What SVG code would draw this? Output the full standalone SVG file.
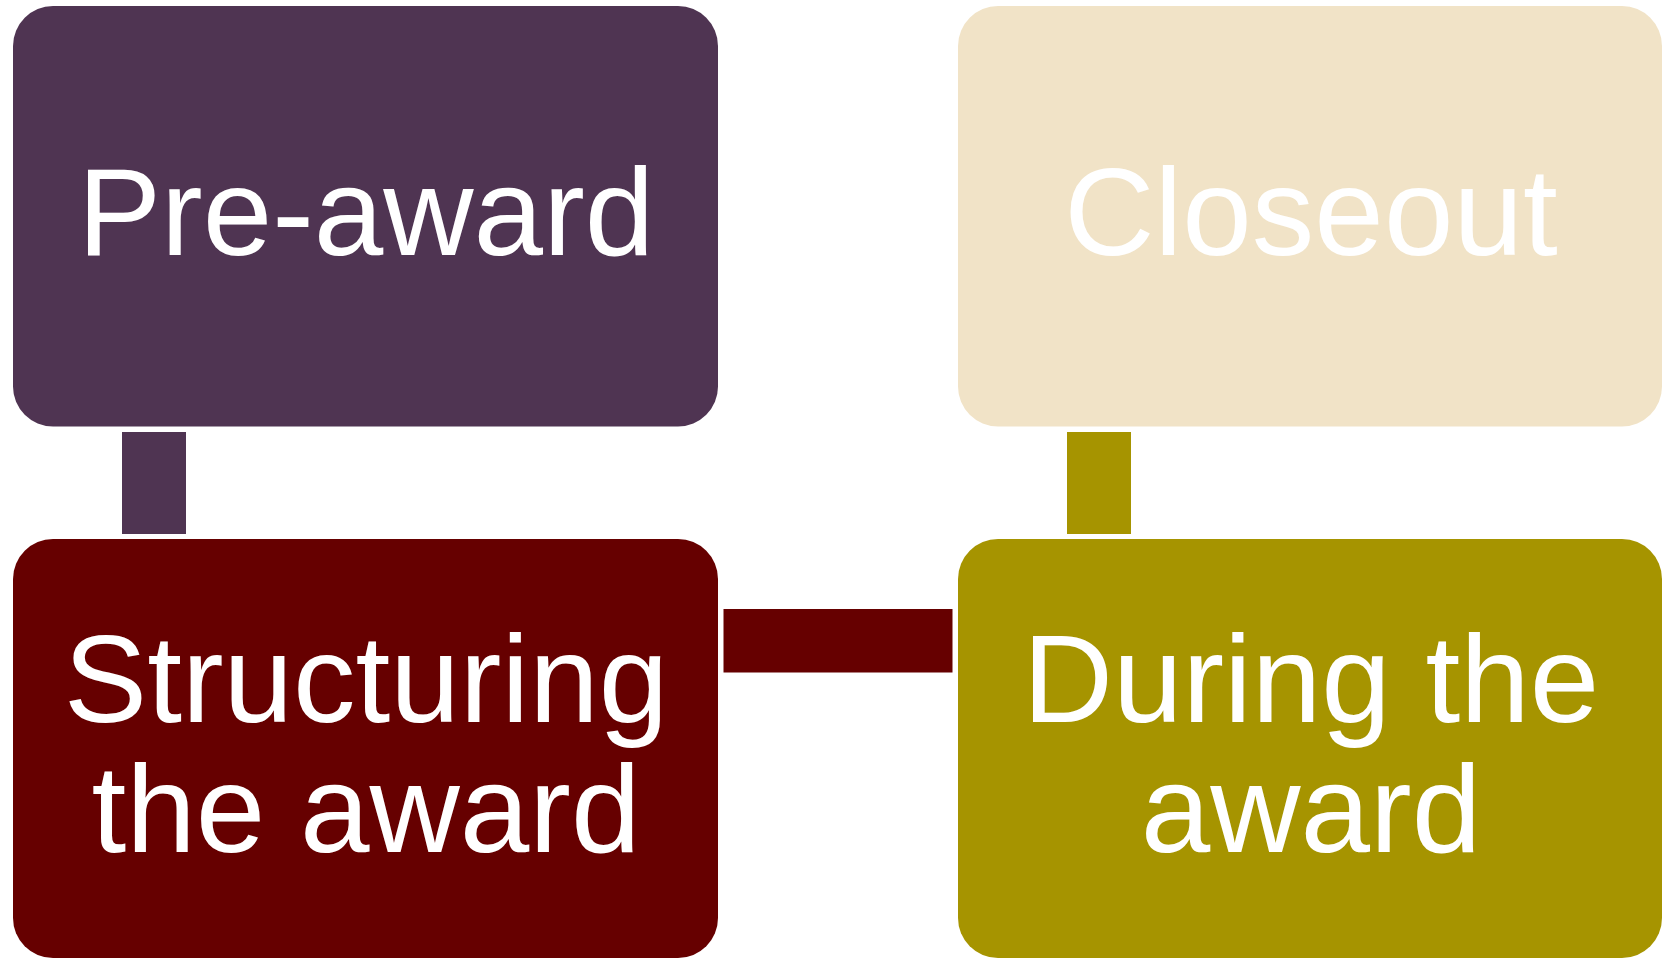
<svg xmlns="http://www.w3.org/2000/svg" width="1663" height="959" viewBox="0 0 1663 959">
  <style>
    .label { font-family: "Liberation Sans", Arial, sans-serif; font-size: 125px; fill: #ffffff; text-anchor: middle; }
  </style>
  <rect x="0" y="0" width="1663" height="959" fill="#ffffff"/>

  <!-- connectors between stages -->
  <g id="connectors">
    <rect x="122" y="432" width="64" height="102" fill="#4F3452"/>
    <rect x="723.5" y="609" width="229" height="63.5" fill="#660000"/>
    <rect x="1067" y="432" width="64" height="102" fill="#A69400"/>
  </g>

  <g id="pre-award">
    <rect x="13" y="6" width="705" height="420.5" rx="40" ry="40" fill="#4F3452"/>
    <text class="label" x="366" y="254.5">Pre-award</text>
  </g>

  <g id="closeout">
    <rect x="958" y="6" width="704" height="420.5" rx="40" ry="40" fill="#F1E3C7"/>
    <text class="label" x="1311" y="254.5">Closeout</text>
  </g>

  <g id="structuring">
    <rect x="13" y="539" width="705" height="419" rx="40" ry="40" fill="#660000"/>
    <text class="label" x="366" y="722">Structuring</text>
    <text class="label" x="366" y="852">the award</text>
  </g>

  <g id="during">
    <rect x="958" y="539" width="704" height="419" rx="40" ry="40" fill="#A69400"/>
    <text class="label" x="1311" y="722">During the</text>
    <text class="label" x="1311" y="852">award</text>
  </g>
</svg>
